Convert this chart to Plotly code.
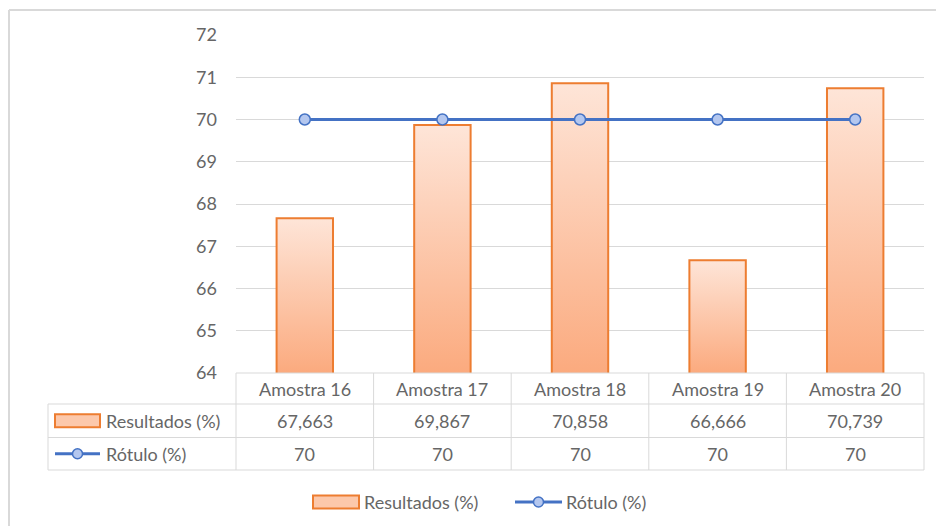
import plotly.graph_objects as go

# Data
categories = ["Amostra 16", "Amostra 17", "Amostra 18", "Amostra 19", "Amostra 20"]
resultados = [67.663, 69.867, 70.858, 66.666, 70.739]
rotulo = [70, 70, 70, 70, 70]
series_names = ["Resultados (%)", "Rótulo (%)"]
y_ticks = [64, 65, 66, 67, 68, 69, 70, 71, 72]

# Styling
W, H = 936, 526
L, R, T, B = 236, 924, 35, 373
FONT = "Lato, 'Liberation Sans', sans-serif"
TXT = "#666666"
GRID = "#d9d9d9"
ORANGE = "#ed7d31"
BLUE = "#4472c4"
MARK_FILL = "#b4c7ef"
GRAD_TOP = "#fee5d8"
GRAD_BOT = "#fbaa7e"
BAR_W = 0.41
Y_MIN, Y_MAX = y_ticks[0], y_ticks[-1]


def px(x):
    return (x - L) / (R - L)


def py(y):
    return (B - y) / (B - T)


def fmt(v):
    s = f"{v:.3f}".rstrip("0").rstrip(".")
    return s.replace(".", ",")


fig = go.Figure()

# Bars drawn as filled paths so each can carry its own vertical gradient
for i, v in enumerate(resultados):
    fig.add_trace(go.Scatter(
        x=[i - BAR_W / 2, i - BAR_W / 2, i + BAR_W / 2, i + BAR_W / 2],
        y=[Y_MIN, v, v, Y_MIN],
        mode="lines",
        fill="toself",
        fillgradient=dict(type="vertical", start=Y_MIN, stop=v,
                          colorscale=[[0, GRAD_BOT], [1, GRAD_TOP]]),
        line=dict(color=ORANGE, width=2),
        name=series_names[0],
        showlegend=False,
        hoverinfo="skip",
    ))

fig.add_trace(go.Scatter(
    x=list(range(len(categories))),
    y=rotulo,
    mode="lines+markers",
    line=dict(color=BLUE, width=3),
    marker=dict(size=11, color=MARK_FILL, line=dict(color=BLUE, width=1.5)),
    name=series_names[1],
    showlegend=False,
))

shapes = []
ann = []


def hline(x0, x1, y, color=GRID, width=1):
    shapes.append(dict(type="line", xref="paper", yref="paper",
                       x0=px(x0), x1=px(x1), y0=py(y), y1=py(y),
                       line=dict(color=color, width=width)))


def vline(x, y0, y1, color=GRID, width=1, xref="paper"):
    xv = px(x) if xref == "paper" else x
    shapes.append(dict(type="line", xref=xref, yref="paper",
                       x0=xv, x1=xv, y0=py(y0), y1=py(y1),
                       line=dict(color=color, width=width)))


def text(x, y, s, xanchor="center"):
    ann.append(dict(x=x, y=py(y), xref="x" if xanchor == "center" else "paper",
                    yref="paper", text=s, showarrow=False,
                    xanchor=xanchor, yanchor="middle",
                    font=dict(family=FONT, size=18, color=TXT)))


# Data table grid
ROW_TOP, ROW1, ROW2, ROW_BOT = 373, 404, 437.5, 470
TABLE_LEFT = 48
hline(L, R, ROW_TOP)
for y in (ROW1, ROW2, ROW_BOT):
    hline(TABLE_LEFT, R, y)
vline(TABLE_LEFT, ROW1, ROW_BOT)
vline(L, ROW_TOP, ROW_BOT)
vline(R, ROW_TOP, ROW_BOT)
for i in range(len(categories) - 1):
    vline(i + 0.5, ROW_TOP, ROW_BOT, xref="x")

# Table text
for i, c in enumerate(categories):
    text(i, (ROW_TOP + ROW1) / 2, c)
    text(i, (ROW1 + ROW2) / 2, fmt(resultados[i]))
    text(i, (ROW2 + ROW_BOT) / 2, fmt(rotulo[i]))

for y, s in (((ROW1 + ROW2) / 2, series_names[0]), ((ROW2 + ROW_BOT) / 2, series_names[1])):
    ann.append(dict(x=px(104), y=py(y), xref="paper", yref="paper", text=s,
                    showarrow=False, xanchor="left", yanchor="middle",
                    font=dict(family=FONT, size=18, color=TXT)))


def bar_key(x0, x1, yc):
    shapes.append(dict(type="rect", xref="paper", yref="paper",
                       x0=px(x0), x1=px(x1), y0=py(yc - 6.5), y1=py(yc + 6.5),
                       fillcolor="#fcc8ab", line=dict(color=ORANGE, width=2)))


def line_key(x0, x1, yc):
    shapes.append(dict(type="line", xref="paper", yref="paper",
                       x0=px(x0), x1=px(x1), y0=py(yc), y1=py(yc),
                       line=dict(color=BLUE, width=3)))
    xc = (x0 + x1) / 2
    shapes.append(dict(type="circle", xref="paper", yref="paper",
                       x0=px(xc - 5), x1=px(xc + 5), y0=py(yc - 5), y1=py(yc + 5),
                       fillcolor=MARK_FILL, line=dict(color=BLUE, width=1.5)))


# Keys inside the table
bar_key(55, 100, (ROW1 + ROW2) / 2)
line_key(55, 100, (ROW2 + ROW_BOT) / 2)

# Bottom legend
LEG_Y = 502
bar_key(313, 359, LEG_Y)
ann.append(dict(x=px(362), y=py(LEG_Y), xref="paper", yref="paper", text=series_names[0],
                showarrow=False, xanchor="left", yanchor="middle",
                font=dict(family=FONT, size=18, color=TXT)))
line_key(515, 562, LEG_Y)
ann.append(dict(x=px(564), y=py(LEG_Y), xref="paper", yref="paper", text=series_names[1],
                showarrow=False, xanchor="left", yanchor="middle",
                font=dict(family=FONT, size=18, color=TXT)))

# Chart frame (left and top edges)
shapes.append(dict(type="line", xref="paper", yref="paper", x0=px(9), x1=px(9),
                   y0=py(10), y1=py(H + 5), line=dict(color=GRID, width=2)))
shapes.append(dict(type="line", xref="paper", yref="paper", x0=px(9), x1=px(W + 5),
                   y0=py(10), y1=py(10), line=dict(color=GRID, width=2)))

fig.update_layout(
    width=W, height=H,
    margin=dict(l=L, r=W - R, t=T, b=H - B),
    paper_bgcolor="white", plot_bgcolor="white",
    shapes=shapes, annotations=ann,
    showlegend=False,
    xaxis=dict(range=[-0.5, len(categories) - 0.5], showgrid=False, zeroline=False,
               showticklabels=False, showline=False, fixedrange=True),
    yaxis=dict(range=[Y_MIN, Y_MAX], tickvals=y_ticks, showgrid=True, gridcolor=GRID,
               gridwidth=1, zeroline=False, showline=False, ticks="",
               ticklabelstandoff=18,
               tickfont=dict(family=FONT, size=18, color=TXT)),
)

fig.write_html("out.html")
